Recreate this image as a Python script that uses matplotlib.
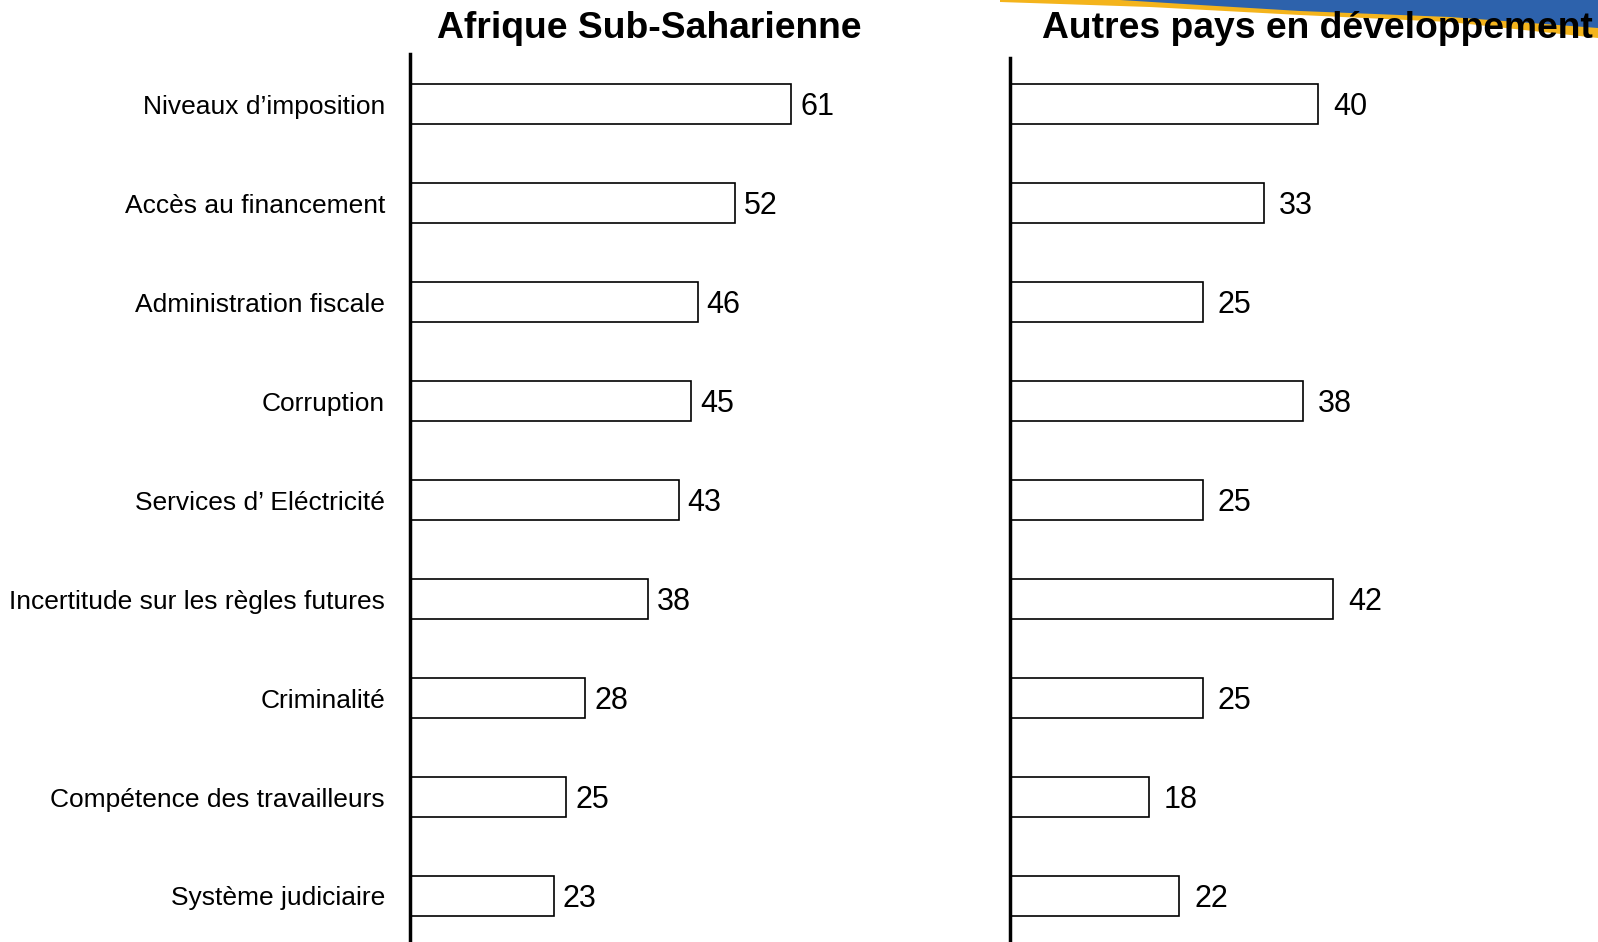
import numpy as np
import matplotlib.pyplot as plt
from matplotlib.patches import Polygon

categories = [
    "Niveaux d\u2019imposition",
    "Accès au financement",
    "Administration fiscale",
    "Corruption",
    "Services d\u2019 Eléctricité",
    "Incertitude sur les règles futures",
    "Criminalité",
    "Compétence des travailleurs",
    "Système judiciaire",
]
afrique = [61, 52, 46, 45, 43, 38, 28, 25, 23]
autres = [40, 33, 25, 38, 25, 42, 25, 18, 22]
titles = ["Afrique Sub-Saharienne", "Autres pays en développement"]

plt.rcParams['font.family'] = ['Liberation Sans', 'DejaVu Sans']

W, H = 1598, 942
fig = plt.figure(figsize=(W / 100, H / 100), dpi=100)

# header swoosh (slide decoration)
yellow = Polygon([(1000, H - 0), (1598, H - 0), (1598, H - 38), (1450, H - 22),
                  (1300, H - 15), (1150, H - 7), (1000, H - 2)],
                 closed=True, transform=None, facecolor='#f4b41c', edgecolor='none')
blue = Polygon([(1120, H - 0), (1598, H - 0), (1598, H - 28), (1450, H - 17),
                (1300, H - 11), (1200, H - 5)],
               closed=True, transform=None, facecolor='#2d62ac', edgecolor='none')
fig.patches.extend([yellow, blue])

y = np.arange(len(categories))


def panel(left_px, top_px, width_px, scale, values, title, title_x, show_labels, gap):
    ax = fig.add_axes([left_px / W, 0, width_px / W, (H - top_px) / H])
    ax.barh(y, values, height=0.4, color='white', edgecolor='black', linewidth=1.2)
    for yi, v in zip(y, values):
        ax.text(v + gap / scale, yi + 0.03, str(v), va='center', ha='left', fontsize=22)
    ax.set_xlim(0, width_px / scale)
    ax.set_ylim(8 + (H - 896) / 99, -(104 - top_px) / 99)
    for s in ['top', 'right', 'bottom']:
        ax.spines[s].set_visible(False)
    ax.spines['left'].set_linewidth(2.5)
    ax.set_xticks([])
    ax.set_yticks(y)
    ax.tick_params(axis='y', length=0, pad=18)
    if show_labels:
        ax.set_yticklabels(categories, fontsize=19)
    else:
        ax.set_yticklabels([])
    fig.text(title_x / W, 1 - 28 / H, title, ha='center', va='center',
             fontsize=26.8, fontweight='bold')
    return ax


panel(410, 54, 440, 6.25, afrique, titles[0], 649, True, 9)
panel(1010, 58, 588, 7.7, autres, titles[1], 1317, False, 15)

fig.savefig('out.png', dpi=100)
